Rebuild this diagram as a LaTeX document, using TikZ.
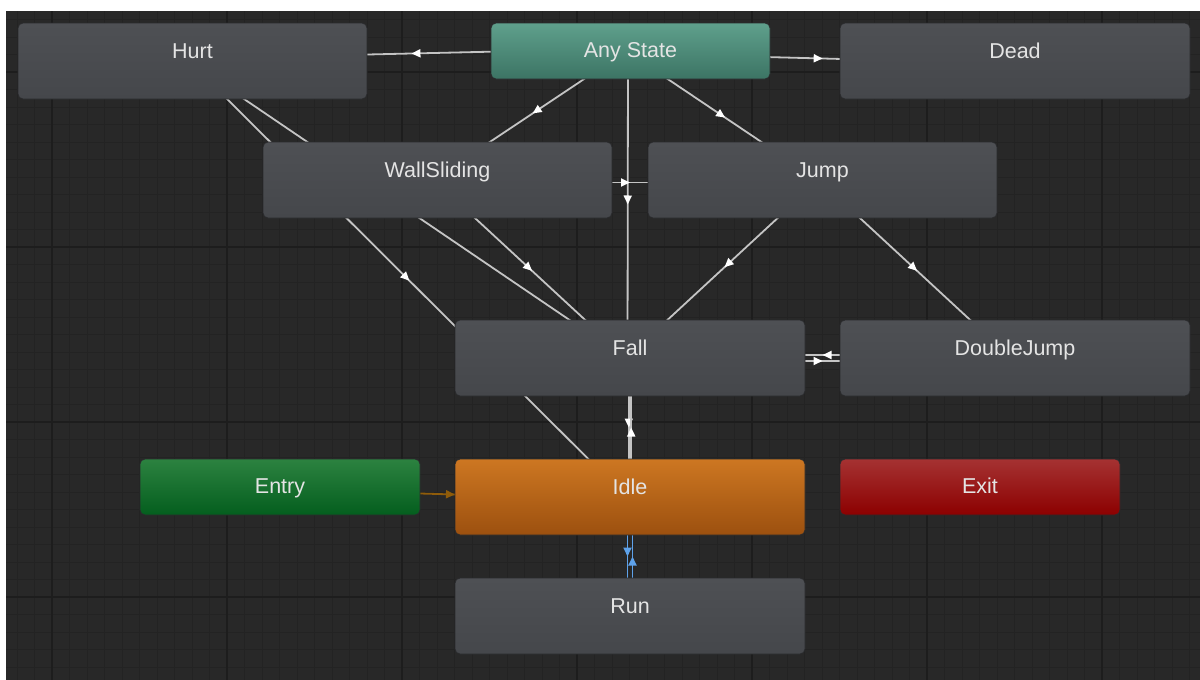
\documentclass[tikz,border=0pt]{standalone}
\usepackage{fontspec}
\setmainfont{Liberation Sans}
\usetikzlibrary{calc,arrows.meta,decorations.markings}
\definecolor{bgc}{HTML}{282828}
\definecolor{minorc}{HTML}{232323}
\definecolor{majorc}{HTML}{1D1D1D}
\definecolor{graytop}{HTML}{4E5054}
\definecolor{graybot}{HTML}{45474B}
\definecolor{anytop}{HTML}{5FA08C}
\definecolor{anybot}{HTML}{3C7464}
\definecolor{entrytop}{HTML}{2C8240}
\definecolor{entrybot}{HTML}{045E1E}
\definecolor{idletop}{HTML}{CD7722}
\definecolor{idlebot}{HTML}{9C500F}
\definecolor{exittop}{HTML}{A53232}
\definecolor{exitbot}{HTML}{8C0000}
\definecolor{txtc}{HTML}{E4E4E4}
\definecolor{edgec}{HTML}{C4C4C4}
\definecolor{bluec}{HTML}{5EA2EA}
\definecolor{orangec}{HTML}{8F5C0A}
\definecolor{nodeedge}{HTML}{2A2B2D}
\pgfdeclarelayer{back}
\pgfsetlayers{back,main}
\begin{document}
\begin{tikzpicture}[x=1pt,y=1pt,
  stbox/.style={rectangle, rounded corners=5pt, draw=nodeedge, line width=0.8pt,
    inner sep=0pt, text=txtc, font=\fontsize{21.5}{24}\selectfont, text height=15.4pt},
  tallbox/.style={stbox, minimum width=350pt, minimum height=76pt, text depth=21pt},
  shortbox/.style={stbox, minimum width=280pt, minimum height=56pt, text depth=2pt},
  graybox/.style={top color=graytop, bottom color=graybot},
  trbase/.style={line width=1.8pt, postaction={decorate}},
  trw/.style={trbase, draw=edgec, decoration={markings,
    mark=at position 0.5 with {\arrow{Triangle[length=9pt,width=8pt,color=white]}}}},
  trb/.style={trbase, draw=bluec, decoration={markings,
    mark=at position 0.5 with {\arrow{Triangle[length=9pt,width=8pt,color=bluec]}}}},
  tro/.style={trbase, draw=orangec, decoration={markings,
    mark=at position 0.5 with {\arrow{Triangle[length=9pt,width=8pt,color=orangec]}}}},
  minorline/.style={draw=minorc, line width=0.9pt},
  majorline/.style={draw=majorc, line width=1.2pt}
]
\newcommand\edgeline[4][trw]{\draw[#1] ($(#2.center)!#4!-90:(#3.center)$) -- ($(#3.center)!#4!90:(#2.center)$);}
\useasboundingbox (0,0) rectangle (1200,-680);
\begin{pgfonlayer}{back}
  \fill[white] (0,0) rectangle (1200,-680);
  \fill[bgc] (6,-11) rectangle (1200,-680);
  \foreach \i in {0,...,67} {\draw[minorline] ({17+17.5*\i},-11) -- ({17+17.5*\i},-680);}
  \foreach \j in {1,...,38} {\draw[minorline] (6,{-(2+17.5*\j)}) -- (1200,{-(2+17.5*\j)});}
  \foreach \x in {52,227,402,577,752,927,1102} {\draw[majorline] (\x,-11) -- (\x,-680);}
  \foreach \y in {72,247,422,597} {\draw[majorline] (6,-\y) -- (1200,-\y);}
\end{pgfonlayer}

\node[tallbox, graybox, minimum width=349pt] (hurt) at (192.5,-61) {Hurt};
\node[shortbox, top color=anytop, bottom color=anybot, minimum width=279pt] (any) at (630.5,-51) {Any State};
\node[tallbox, graybox] (dead) at (1015,-61) {Dead};
\node[tallbox, graybox, minimum width=349pt] (wall) at (437.5,-180) {WallSliding};
\node[tallbox, graybox, minimum width=349pt] (jump) at (822.5,-180) {Jump};
\node[tallbox, graybox] (fall) at (630,-358) {Fall};
\node[tallbox, graybox] (dj) at (1015,-358) {DoubleJump};
\node[shortbox, top color=entrytop, bottom color=entrybot] (entry) at (280,-487) {Entry};
\node[tallbox, top color=idletop, bottom color=idlebot] (idle) at (630,-497) {Idle};
\node[shortbox, top color=exittop, bottom color=exitbot] (exit) at (980,-487) {Exit};
\node[tallbox, graybox] (run) at (630,-616) {Run};

\begin{pgfonlayer}{back}
  \edgeline{any}{hurt}{2.5pt}
  \edgeline{any}{dead}{2.5pt}
  \edgeline{any}{wall}{2.5pt}
  \edgeline{any}{jump}{2.5pt}
  \edgeline{any}{fall}{2.5pt}
  \edgeline{wall}{jump}{2.5pt}
  \edgeline{hurt}{idle}{2.5pt}
  \edgeline{hurt}{fall}{2.5pt}
  \edgeline{wall}{fall}{2.5pt}
  \edgeline{jump}{fall}{2.5pt}
  \edgeline{jump}{dj}{2.5pt}
  \edgeline{fall}{dj}{3pt}
  \edgeline{dj}{fall}{3pt}
  \edgeline{fall}{idle}{1.2pt}
  \edgeline{idle}{fall}{1.2pt}
  \edgeline[trb]{idle}{run}{2.5pt}
  \edgeline[trb]{run}{idle}{2.5pt}
  \edgeline[tro]{entry}{idle}{2.5pt}
\end{pgfonlayer}
\end{tikzpicture}
\end{document}
